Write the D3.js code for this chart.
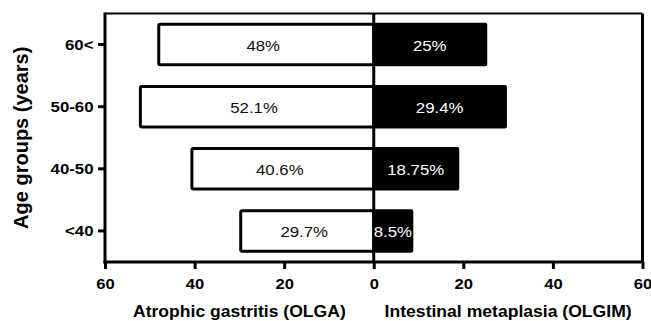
<!DOCTYPE html>
<html>
<head>
<meta charset="utf-8">
<script src="https://cdn.jsdelivr.net/npm/d3@7"></script>
<style>
  html, body { margin: 0; padding: 0; background: #fff; }
  svg { display: block; font-family: Arial, "Liberation Sans", sans-serif; }
</style>
</head>
<body>
<svg id="chart" width="651" height="321"></svg>
<script>
// ---- data ----
const categories = ["60<", "50-60", "40-50", "<40"];
const olgaValues = [48, 52.1, 40.6, 29.7];
const olgimValues = [25, 29.4, 18.75, 8.5];
const olgaLabels = ["48%", "52.1%", "40.6%", "29.7%"];
const olgimLabels = ["25%", "29.4%", "18.75%", "8.5%"];
const xTickValues = [-60, -40, -20, 0, 20, 40, 60];
const xTickLabels = ["60", "40", "20", "0", "20", "40", "60"];
const yTitle = "Age groups (years)";
const xTitleLeft = "Atrophic gastritis (OLGA)";
const xTitleRight = "Intestinal metaplasia (OLGIM)";

// ---- layout ----
const pLeft = 105, pRight = 642.5, pTop = 13.5, pBottom = 262;
const stretch = 1.12; // text in the reference is horizontally widened
const FONT = "Arial, 'Liberation Sans', sans-serif";
const svg = d3.select("#chart");

const x = d3.scaleLinear().domain([-60, 60]).range([pLeft, pRight]);
const y = d3.scaleBand().domain(categories).range([pTop, pBottom])
  .paddingInner(0.35).paddingOuter(0.175);

// frame: top and right borders
svg.append("line").attr("x1", pLeft).attr("x2", pRight).attr("y1", pTop).attr("y2", pTop)
  .attr("stroke", "#000").attr("stroke-width", 2);
svg.append("line").attr("x1", pRight).attr("x2", pRight).attr("y1", pTop).attr("y2", pBottom)
  .attr("stroke", "#000").attr("stroke-width", 3);

// left bars (OLGA) - white with black outline
svg.append("g").selectAll("rect").data(categories).join("rect")
  .attr("x", (d, i) => x(-olgaValues[i]))
  .attr("y", d => y(d))
  .attr("width", (d, i) => x(0) - x(-olgaValues[i]))
  .attr("height", y.bandwidth())
  .attr("rx", 1.5)
  .attr("fill", "#fff").attr("stroke", "#000").attr("stroke-width", 3);

// right bars (OLGIM) - black
svg.append("g").selectAll("rect").data(categories).join("rect")
  .attr("x", x(0))
  .attr("y", d => y(d) - 1.5)
  .attr("width", (d, i) => x(olgimValues[i]) - x(0) + 1.5)
  .attr("height", y.bandwidth() + 3)
  .attr("rx", 2)
  .attr("fill", "#000");

// zero line
svg.append("line").attr("x1", x(0)).attr("x2", x(0)).attr("y1", pTop).attr("y2", pBottom)
  .attr("stroke", "#000").attr("stroke-width", 3);

// bar labels
svg.append("g").selectAll("text").data(categories).join("text")
  .attr("transform", (d, i) =>
    `translate(${(x(-olgaValues[i]) + x(0)) / 2 - 3},${y(d) + y.bandwidth() / 2}) scale(${stretch},1)`)
  .attr("dy", "0.42em")
  .attr("text-anchor", "middle")
  .attr("font-size", 15)
  .attr("fill", "#111")
  .text((d, i) => olgaLabels[i]);

svg.append("g").selectAll("text").data(categories).join("text")
  .attr("transform", (d, i) =>
    `translate(${(x(olgimValues[i]) + x(0)) / 2},${y(d) + y.bandwidth() / 2}) scale(${stretch},1)`)
  .attr("dy", "0.42em")
  .attr("text-anchor", "middle")
  .attr("font-size", 15)
  .attr("fill", "#fff")
  .text((d, i) => olgimLabels[i]);

// x axis
const xAxis = d3.axisBottom(x).tickValues(xTickValues)
  .tickFormat((d, i) => xTickLabels[i]).tickSize(7).tickSizeOuter(0).tickPadding(9);
const gx = svg.append("g").attr("transform", `translate(0,${pBottom})`).call(xAxis);
gx.select(".domain").attr("stroke-width", 3).attr("d", `M${pLeft - 1.5},0H${pRight + 1.5}`);
gx.selectAll(".tick line").attr("stroke-width", 3);
gx.selectAll(".tick text").attr("font-size", 14.8).attr("font-weight", "bold")
  .attr("fill", "#000").attr("font-family", FONT)
  .attr("transform", `scale(${stretch},1)`);

// y axis
const yAxis = d3.axisLeft(y).tickSize(7).tickSizeOuter(0).tickPadding(3);
const gy = svg.append("g").attr("transform", `translate(${pLeft},0)`).call(yAxis);
gy.select(".domain").attr("stroke-width", 3).attr("d", `M0,${pTop - 1}V${pBottom + 1.5}`);
gy.selectAll(".tick line").attr("stroke-width", 3);
gy.selectAll(".tick text").attr("font-size", 15).attr("font-weight", "bold")
  .attr("fill", "#000").attr("font-family", FONT)
  .attr("x", 0).attr("dy", "0.36em")
  .attr("transform", `translate(-11.5,0) scale(${stretch},1)`);

// axis titles
svg.append("text")
  .attr("transform", `translate(${(x(-60) + x(0)) / 2},317) scale(${stretch},1)`)
  .attr("text-anchor", "middle").attr("font-size", 15.7).attr("font-weight", "bold")
  .text(xTitleLeft);
svg.append("text")
  .attr("transform", `translate(${(x(0) + x(60)) / 2},317) scale(${stretch},1)`)
  .attr("text-anchor", "middle").attr("font-size", 15.7).attr("font-weight", "bold")
  .text(xTitleRight);
svg.append("text")
  .attr("transform", `translate(28,${(pTop + pBottom) / 2}) rotate(-90)`)
  .attr("text-anchor", "middle").attr("font-size", 20).attr("font-weight", "bold")
  .text(yTitle);
</script>
</body>
</html>
